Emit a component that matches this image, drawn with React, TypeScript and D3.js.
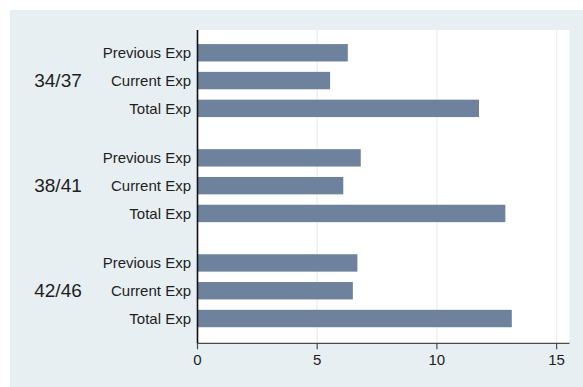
import React from "react";
import * as d3 from "d3";

const groups = ["34/37", "38/41", "42/46"];
const measures = ["Previous Exp", "Current Exp", "Total Exp"];
const previousExp = [6.28, 6.82, 6.68];
const currentExp = [5.54, 6.09, 6.49];
const totalExp = [11.76, 12.86, 13.13];
const xTicks = [0, 5, 10, 15];

const W = 583;
const H = 387;
const plot = { left: 197.5, right: 569.5, top: 30, bottom: 343.3 };
const FONT = "'Liberation Sans', Arial, Helvetica, sans-serif";

export default function App() {
  const x = d3.scaleLinear().domain([0, 15.54]).range([plot.left, plot.right]);
  const yGroup = d3
    .scaleBand<string>()
    .domain(groups)
    .range([29, 342.3])
    .paddingInner(0.2065)
    .paddingOuter(0.094);
  const yBar = d3
    .scaleBand<string>()
    .domain(measures)
    .range([0, yGroup.bandwidth()])
    .paddingInner(0.374)
    .paddingOuter(0.187);

  const seriesByMeasure: Record<string, number[]> = {
    "Previous Exp": previousExp,
    "Current Exp": currentExp,
    "Total Exp": totalExp,
  };

  const bars = groups.flatMap((g, gi) =>
    measures.map((m) => ({ g, m, v: seriesByMeasure[m][gi] }))
  );

  return (
    <svg
      width={W}
      height={H}
      style={{ position: "absolute", left: 0, top: 0, display: "block" }}
      fontFamily={FONT}
    >
      <rect x={0} y={0} width={W} height={H} fill="#ffffff" />
      <rect x={10} y={10} width={W - 10} height={H - 10} fill="#e8eff2" />
      <rect
        x={plot.left}
        y={plot.top}
        width={plot.right - plot.left}
        height={plot.bottom - plot.top}
        fill="#ffffff"
      />
      {xTicks
        .filter((t) => t > 0)
        .map((t) => (
          <line
            key={"g" + t}
            x1={x(t)}
            x2={x(t)}
            y1={plot.top}
            y2={plot.bottom}
            stroke="#e6eef3"
            strokeWidth={1.2}
          />
        ))}
      {bars.map((b) => {
        const y0 = (yGroup(b.g) as number) + (yBar(b.m) as number);
        return (
          <rect
            key={b.g + b.m}
            x={x(0)}
            y={y0}
            width={x(b.v) - x(0)}
            height={yBar.bandwidth()}
            fill="#6e829d"
          />
        );
      })}
      {bars.map((b) => {
        const yc = (yGroup(b.g) as number) + (yBar(b.m) as number) + yBar.bandwidth() / 2;
        return (
          <text
            key={"l" + b.g + b.m}
            x={191}
            y={yc}
            dy="0.35em"
            textAnchor="end"
            fontSize={15}
            fill="#1e1e1e"
          >
            {b.m}
          </text>
        );
      })}
      {groups.map((g) => {
        const yc =
          (yGroup(g) as number) + (yBar("Current Exp") as number) + yBar.bandwidth() / 2;
        return (
          <text
            key={"grp" + g}
            x={58}
            y={yc}
            dy="0.35em"
            textAnchor="middle"
            fontSize={19}
            fill="#1e1e1e"
          >
            {g}
          </text>
        );
      })}
      <line
        x1={plot.left}
        x2={plot.right}
        y1={plot.bottom}
        y2={plot.bottom}
        stroke="#4a4a4a"
        strokeWidth={1.3}
      />
      {xTicks.map((t) => (
        <g key={"t" + t}>
          <line
            x1={x(t)}
            x2={x(t)}
            y1={plot.bottom}
            y2={plot.bottom + 6}
            stroke="#4a4a4a"
            strokeWidth={1.2}
          />
          <text
            x={x(t)}
            y={plot.bottom + 22}
            textAnchor="middle"
            fontSize={15}
            fill="#1e1e1e"
          >
            {t}
          </text>
        </g>
      ))}
      <line
        x1={plot.left}
        x2={plot.left}
        y1={plot.top}
        y2={plot.bottom}
        stroke="#111111"
        strokeWidth={1.6}
      />
    </svg>
  );
}
